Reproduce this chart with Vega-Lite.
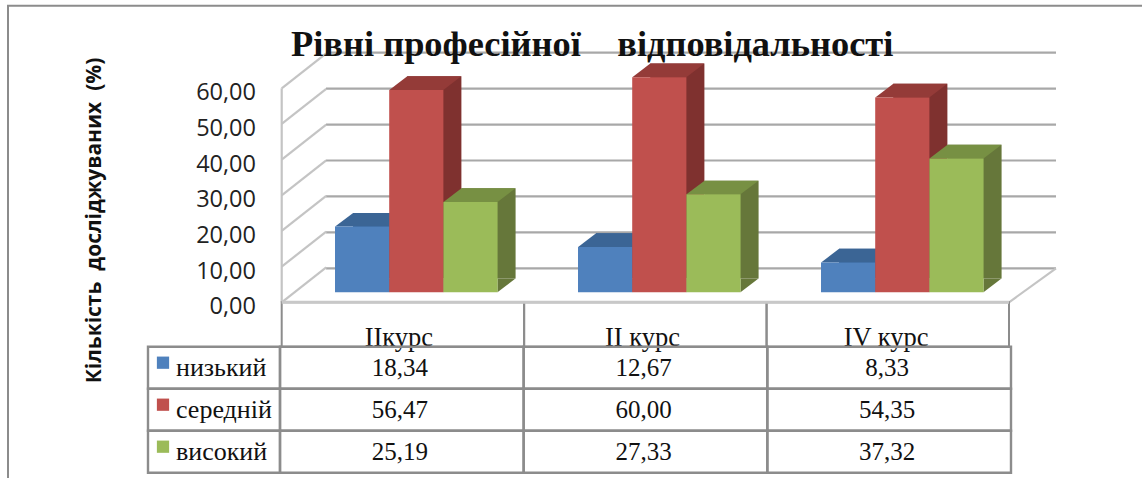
{
"$schema":"https://vega.github.io/schema/vega-lite/v6.json",
"width":1142,"height":478,"padding":0,"autosize":{"type":"none"},
"background":"white",
"view":{"stroke":null},
"title":{"text":"Рівні професійної\u00a0\u00a0\u00a0\u00a0відповідальності","anchor":"start","frame":"group","dx":291,"dy":63,"offset":0,"font":"Liberation Serif","fontWeight":"bold","fontSize":36.4,"color":"#111111"},
"datasets":{
"rows":[
{"course":"IIкурс","series":"низький","value":18.34,"label":"18,34"},
{"course":"IIкурс","series":"середній","value":56.47,"label":"56,47"},
{"course":"IIкурс","series":"високий","value":25.19,"label":"25,19"},
{"course":"II курс","series":"низький","value":12.67,"label":"12,67"},
{"course":"II курс","series":"середній","value":60.00,"label":"60,00"},
{"course":"II курс","series":"високий","value":27.33,"label":"27,33"},
{"course":"IV курс","series":"низький","value":8.33,"label":"8,33"},
{"course":"IV курс","series":"середній","value":54.35,"label":"54,35"},
{"course":"IV курс","series":"високий","value":37.32,"label":"37,32"}],
"levels":[{"level":0},{"level":10},{"level":20},{"level":30},{"level":40},{"level":50},{"level":60}],
"courses":[{"course":"IIкурс"},{"course":"II курс"},{"course":"IV курс"}],
"seriesRows":[{"series":"низький"},{"series":"середній"},{"series":"високий"}],
"one":[{"part":"frame"}]
},
"data":{"name":"rows"},
"resolve":{"scale":{"x":"independent","y":"independent","xOffset":"independent","color":"independent"}},
"layer":[
{"data":{"name":"one"},"mark":{"type":"rect","fill":"transparent","stroke":"#8c8c8c","strokeWidth":2},
"encoding":{"x":{"datum":0,"type":"quantitative","axis":null,"scale":{"domain":[0,1],"range":[8,1180]}},"x2":{"datum":1},"y":{"datum":0,"type":"quantitative","axis":null,"scale":{"domain":[0,1],"range":[5.7,520]}},"y2":{"datum":1}}},

{"data":{"name":"levels"},"mark":{"type":"rule","stroke":"#a8a8a8","strokeWidth":2.2},
"encoding":{"x":{"datum":0,"type":"quantitative","axis":null,"scale":{"domain":[0,1],"range":[326,1056]}},"x2":{"datum":1},"y":{"field":"level","type":"quantitative","axis":null,"scale":{"domain":[0,60],"range":[268.3,52.7]}}}},

{"data":{"name":"levels"},"mark":{"type":"point","filled":false,"opacity":1,"stroke":"#c4c4c4","strokeWidth":2.2,"size":4,"shape":"M0,0L44.5,-35"},
"encoding":{"x":{"datum":0,"type":"quantitative","axis":null,"scale":{"domain":[0,1],"range":[281.7,1009]}},"y":{"field":"level","type":"quantitative","scale":{"domain":[0,60],"range":[302.3,88.3]},
"axis":{"title":"Кількість\u00a0\u00a0досліджуваних\u00a0\u00a0(%)","titleFont":"Open Sans","titleFontWeight":"bold","titleFontSize":21,"titleColor":"#111111","titleX":-156.5,"titleY":220,"offset":-260.5,"domain":false,"ticks":false,"grid":false,"values":[0,10,20,30,40,50,60],"labelExpr":"replace(format(datum.value,'.2f'),'.',',')","labelFont":"Open Sans","labelFontSize":23.5,"labelColor":"#222222","labelOffset":4.5,"labelPadding":5,"labelOverlap":false,"labelBound":false}}}},

{"data":{"name":"one"},"mark":{"type":"rule","stroke":"#c4c4c4","strokeWidth":2.2},
"encoding":{"x":{"datum":0,"type":"quantitative","axis":null,"scale":{"domain":[0,1],"range":[281.7,1009]}},"y":{"datum":0,"type":"quantitative","axis":null,"scale":{"domain":[0,60],"range":[302.3,88.3]}},"y2":{"datum":60}}},

{"data":{"name":"one"},"mark":{"type":"point","filled":false,"opacity":1,"stroke":"#c4c4c4","strokeWidth":2.2,"size":4,"shape":"M0,0L47,-34"},
"encoding":{"x":{"datum":1,"type":"quantitative","axis":null,"scale":{"domain":[0,1],"range":[281.7,1009]}},"y":{"datum":0,"type":"quantitative","axis":null,"scale":{"domain":[0,60],"range":[302.3,88.3]}}}},

{"data":{"name":"courses"},"mark":{"type":"bar","fill":"transparent","stroke":"#8c8c8c","strokeWidth":2},
"encoding":{"x":{"field":"course","type":"nominal","sort":null,"axis":null,"scale":{"type":"band","domain":["IIкурс","II курс","IV курс"],"range":[281.7,1009],"paddingInner":0,"paddingOuter":0}},"y":{"datum":"заголовок","type":"nominal","axis":null,"scale":{"type":"band","domain":["заголовок"],"range":[302.3,346.7],"paddingInner":0,"paddingOuter":0}}}},

{"data":{"name":"one"},"mark":{"type":"rule","stroke":"#c8c8c8","strokeWidth":3},
"encoding":{"x":{"datum":0,"type":"quantitative","axis":null,"scale":{"domain":[0,1],"range":[281.7,1009]}},"x2":{"datum":1},"y":{"datum":0,"type":"quantitative","axis":null,"scale":{"domain":[0,60],"range":[302.3,88.3]}}}},

{"mark":{"type":"bar"},
"encoding":{"x":{"field":"course","type":"nominal","sort":null,"axis":null,"scale":{"type":"band","domain":["IIкурс","II курс","IV курс"],"range":[312.8,1041.8],"paddingInner":0,"paddingOuter":0}},
"xOffset":{"field":"series","type":"nominal","sort":null,"scale":{"type":"band","domain":["низький","середній","високий"],"range":[0,243],"paddingInner":0,"paddingOuter":0.742}},
"y":{"field":"value","type":"quantitative","stack":null,"axis":null,"scale":{"domain":[0,60],"range":[278.6,63.6]}},
"color":{"field":"series","type":"nominal","legend":null,"scale":{"domain":["низький","середній","високий"],"range":["#355E8E","#7F312F","#66773A"]}}}},

{"mark":{"type":"point","filled":true,"opacity":1,"size":4,"strokeWidth":0,"shape":"M27,0L27,-13.7L45,-13.7Z"},
"encoding":{"x":{"field":"course","type":"nominal","sort":null,"axis":null,"scale":{"type":"band","domain":["IIкурс","II курс","IV курс"],"range":[294.8,1023.8],"paddingInner":0,"paddingOuter":0}},
"xOffset":{"field":"series","type":"nominal","sort":null,"scale":{"type":"band","domain":["низький","середній","високий"],"range":[0,243],"paddingInner":0,"paddingOuter":0.742}},
"y":{"datum":0,"type":"quantitative","axis":null,"scale":{"domain":[0,60],"range":[292.3,77.3]}},
"color":{"field":"series","type":"nominal","legend":null,"scale":{"domain":["низький","середній","високий"],"range":["#355E8E","#7F312F","#66773A"]}}}},

{"mark":{"type":"point","filled":true,"opacity":1,"size":4,"strokeWidth":0,"shape":"M-27,0L27,0L45,-13.7L-9,-13.7Z"},
"encoding":{"x":{"field":"course","type":"nominal","sort":null,"axis":null,"scale":{"type":"band","domain":["IIкурс","II курс","IV курс"],"range":[294.8,1023.8],"paddingInner":0,"paddingOuter":0}},
"xOffset":{"field":"series","type":"nominal","sort":null,"scale":{"type":"band","domain":["низький","середній","високий"],"range":[0,243],"paddingInner":0,"paddingOuter":0.742}},
"y":{"field":"value","type":"quantitative","axis":null,"scale":{"domain":[0,60],"range":[292.3,77.3]}},
"color":{"field":"series","type":"nominal","legend":null,"scale":{"domain":["низький","середній","високий"],"range":["#3B6595","#943B38","#779043"]}}}},

{"mark":{"type":"bar"},
"encoding":{"x":{"field":"course","type":"nominal","sort":null,"axis":null,"scale":{"type":"band","domain":["IIкурс","II курс","IV курс"],"range":[294.8,1023.8],"paddingInner":0,"paddingOuter":0}},
"xOffset":{"field":"series","type":"nominal","sort":null,"scale":{"type":"band","domain":["низький","середній","високий"],"range":[0,243],"paddingInner":0,"paddingOuter":0.742}},
"y":{"field":"value","type":"quantitative","stack":null,"axis":null,"scale":{"domain":[0,60],"range":[292.3,77.3]}},
"color":{"field":"series","type":"nominal","legend":null,"scale":{"domain":["низький","середній","високий"],"range":["#4F81BD","#C0504D","#9BBB59"]}}}},

{"data":{"name":"courses"},"mark":{"type":"text","font":"Liberation Serif","fontSize":26.5,"baseline":"alphabetic","color":"#111111","dy":-1},
"encoding":{"x":{"field":"course","type":"nominal","sort":null,"axis":null,"scale":{"type":"band","domain":["IIкурс","II курс","IV курс"],"range":[277,1008],"paddingInner":0,"paddingOuter":0}},
"y":{"datum":"заголовок","type":"nominal","bandPosition":1,"axis":null,"scale":{"type":"band","domain":["заголовок"],"range":[302.3,346.7],"paddingInner":0,"paddingOuter":0}},"text":{"field":"course"}}},

{"mark":{"type":"bar","fill":"transparent","stroke":"#8c8c8c","strokeWidth":2.4},
"encoding":{"x":{"field":"course","type":"nominal","sort":null,"axis":null,"scale":{"type":"band","domain":["IIкурс","II курс","IV курс"],"range":[280,1011],"paddingInner":0,"paddingOuter":0}},
"y":{"field":"series","type":"nominal","sort":null,"axis":null,"scale":{"type":"band","domain":["низький","середній","високий"],"range":[346.7,472.7],"paddingInner":0,"paddingOuter":0}}}},

{"data":{"name":"seriesRows"},"mark":{"type":"bar","fill":"transparent","stroke":"#8c8c8c","strokeWidth":2.4},
"encoding":{"x":{"datum":"ряд","type":"nominal","axis":null,"scale":{"type":"band","domain":["ряд"],"range":[148,280],"paddingInner":0,"paddingOuter":0}},
"y":{"field":"series","type":"nominal","sort":null,"axis":null,"scale":{"type":"band","domain":["низький","середній","високий"],"range":[346.7,472.7],"paddingInner":0,"paddingOuter":0}}}},

{"mark":{"type":"text","font":"Liberation Serif","fontSize":25,"baseline":"middle","color":"#111111"},
"encoding":{"x":{"field":"course","type":"nominal","sort":null,"axis":null,"scale":{"type":"band","domain":["IIкурс","II курс","IV курс"],"range":[278,1009],"paddingInner":0,"paddingOuter":0}},
"y":{"field":"series","type":"nominal","sort":null,"axis":null,"scale":{"type":"band","domain":["низький","середній","високий"],"range":[346.7,472.7],"paddingInner":0,"paddingOuter":0}},"text":{"field":"label"}}},

{"data":{"name":"seriesRows"},"mark":{"type":"text","font":"Liberation Serif","fontSize":26,"baseline":"middle","align":"left","color":"#111111"},
"encoding":{"x":{"datum":"ряд","type":"nominal","bandPosition":0,"axis":null,"scale":{"type":"band","domain":["ряд"],"range":[176,280],"paddingInner":0,"paddingOuter":0}},
"y":{"field":"series","type":"nominal","sort":null,"axis":null,"scale":{"type":"band","domain":["низький","середній","високий"],"range":[346.7,472.7],"paddingInner":0,"paddingOuter":0}},"text":{"field":"series"}}},

{"data":{"name":"seriesRows"},"mark":{"type":"point","filled":true,"opacity":1,"shape":"square","size":150,"yOffset":-5},
"encoding":{"x":{"datum":"ключ","type":"nominal","axis":null,"scale":{"type":"band","domain":["ключ"],"range":[157,169],"paddingInner":0,"paddingOuter":0}},
"y":{"field":"series","type":"nominal","sort":null,"axis":null,"scale":{"type":"band","domain":["низький","середній","високий"],"range":[346.7,472.7],"paddingInner":0,"paddingOuter":0}},
"color":{"field":"series","type":"nominal","legend":null,"scale":{"domain":["низький","середній","високий"],"range":["#4F81BD","#C0504D","#9BBB59"]}}}}
]
}
